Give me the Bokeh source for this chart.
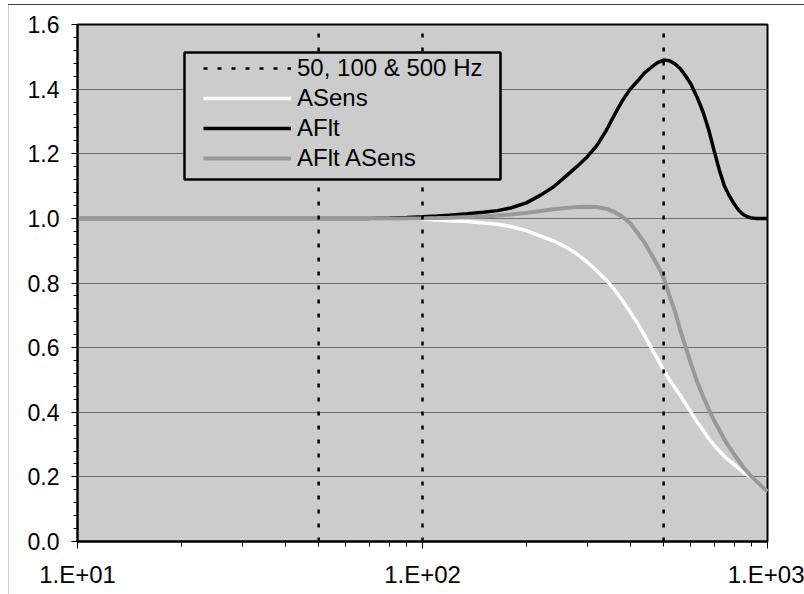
from bokeh.plotting import figure
from bokeh.models import (Range1d, FixedTicker, NumeralTickFormatter, Legend, LegendItem,
                          BoxAnnotation)
from bokeh.embed import file_html
from bokeh.resources import INLINE

# ---- data ----
freq = [10, 20, 30, 40, 50, 60, 70, 80, 90, 100, 110, 120, 135, 150, 165, 180, 200, 220,
        240, 260, 280, 300, 320, 340, 360, 380, 400, 420, 440, 460, 480, 500, 520, 540,
        560, 580, 600, 625, 650, 675, 700, 725, 750, 775, 800, 825, 850, 875, 900, 925,
        950, 975, 1000]
a_sens = [1.0, 1.0, 1.0, 1.0, 1.0, 1.0, 1.0, 1.0, 0.999, 0.997, 0.995, 0.993, 0.99, 0.986,
          0.982, 0.975, 0.962, 0.945, 0.93, 0.912, 0.89, 0.865, 0.838, 0.81, 0.78, 0.745,
          0.71, 0.675, 0.638, 0.60, 0.565, 0.53, 0.50, 0.475, 0.45, 0.425, 0.40, 0.37,
          0.345, 0.318, 0.298, 0.28, 0.263, 0.25, 0.238, 0.226, 0.215, 0.206, 0.197, 0.186,
          0.176, 0.165, 0.155]
a_flt = [1.0, 1.0, 1.0, 1.0, 1.0, 1.0, 1.0, 1.001, 1.003, 1.005, 1.007, 1.01, 1.014, 1.019,
         1.024, 1.032, 1.048, 1.072, 1.098, 1.13, 1.16, 1.19, 1.225, 1.27, 1.32, 1.365,
         1.40, 1.425, 1.45, 1.467, 1.482, 1.49, 1.488, 1.478, 1.462, 1.44, 1.415, 1.375,
         1.33, 1.275, 1.21, 1.15, 1.10, 1.07, 1.045, 1.025, 1.012, 1.005, 1.001, 1.0,
         1.0, 1.0, 1.0]
a_flt_asens = [1.0, 1.0, 1.0, 1.0, 1.0, 1.0, 1.0, 1.0, 1.0, 1.0, 1.001, 1.002, 1.004, 1.006,
               1.009, 1.012, 1.017, 1.023, 1.028, 1.032, 1.035, 1.036, 1.035, 1.03, 1.02,
               1.005, 0.985, 0.955, 0.925, 0.89, 0.855, 0.816, 0.76, 0.71, 0.65, 0.60, 0.55,
               0.495, 0.45, 0.41, 0.375, 0.345, 0.315, 0.292, 0.27, 0.25, 0.23, 0.215, 0.20,
               0.188, 0.177, 0.165, 0.155]
marker_freqs = [50, 100, 500]

series_names = ["50, 100 & 500 Hz", "ASens", "AFlt", "AFlt ASens"]
x_major = [10, 100, 1000]
x_minor = [20, 30, 40, 50, 60, 70, 80, 90, 200, 300, 400, 500, 600, 700, 800, 900]
x_tick_labels = ["1.E+01", "1.E+02", "1.E+03"]
y_major = [0.0, 0.2, 0.4, 0.6, 0.8, 1.0, 1.2, 1.4, 1.6]
y_minor = [round(i * 0.04, 2) for i in range(41)]
y_lo, y_hi = 0.0, 1.6

FONT = "Liberation Sans"

p = figure(width=804, height=594, x_axis_type="log",
           x_range=Range1d(10, 1000), y_range=Range1d(y_lo, y_hi),
           output_backend="svg", toolbar_location=None,
           background_fill_color="#CCCCCC", border_fill_color="white", border_fill_alpha=0,
           min_border_left=77, min_border_right=37, min_border_top=24, min_border_bottom=53)

# Excel-like outer chart border drawn behind the (transparent) canvas border
p.styles = {
    "background": ("linear-gradient(#404040, #404040) 8px 4px / 100% 1px no-repeat, "
                   "linear-gradient(#d0d0d0, #d0d0d0) 8px 4px / 1px 100% no-repeat, white"),
}

p.outline_line_color = "black"
p.outline_line_width = 2
p.xgrid.grid_line_color = None
p.ygrid.grid_line_color = "#6e6e6e"
p.ygrid.grid_line_width = 1

# x axis
xa = p.xaxis[0]
xa.ticker = FixedTicker(ticks=x_major, minor_ticks=x_minor)
xa.major_label_overrides = {v: t for v, t in zip(x_major, x_tick_labels)}
xa.axis_line_color = "black"
xa.axis_line_width = 2
xa.major_tick_in = 0
xa.major_tick_out = 7
xa.minor_tick_in = 0
xa.minor_tick_out = 5
xa.major_tick_line_color = "black"
xa.minor_tick_line_color = "black"
xa.major_label_text_font = FONT
xa.major_label_text_font_size = "24px"
xa.major_label_text_color = "black"
xa.major_label_standoff = 12

# y axis
ya = p.yaxis[0]
ya.ticker = FixedTicker(ticks=y_major, minor_ticks=y_minor)
ya.formatter = NumeralTickFormatter(format="0.0")
ya.axis_line_color = "black"
ya.axis_line_width = 2
ya.major_tick_in = 0
ya.major_tick_out = 6
ya.minor_tick_in = 0
ya.minor_tick_out = 4
ya.major_tick_line_color = "black"
ya.minor_tick_line_color = "black"
ya.major_label_text_font = FONT
ya.major_label_text_font_size = "23px"
ya.major_label_text_color = "black"
ya.major_label_standoff = 12

# curves
r_sens = p.line(freq, a_sens, line_color="white", line_width=3.5)
r_flt = p.line(freq, a_flt, line_color="black", line_width=3.5)
r_both = p.line(freq, a_flt_asens, line_color="#999999", line_width=4)

# vertical marker lines
r_mark = p.segment(x0=marker_freqs, x1=marker_freqs,
                   y0=[y_lo] * len(marker_freqs), y1=[y_hi] * len(marker_freqs),
                   line_color="black", line_width=2.5, line_dash="4 10")

# legend frame
p.add_layout(BoxAnnotation(left=184, right=500, top=52, bottom=179,
                           left_units="canvas", right_units="canvas",
                           top_units="canvas", bottom_units="canvas",
                           fill_color="#CCCCCC", fill_alpha=1.0,
                           line_color="black", line_alpha=1.0, line_width=2.5))

legend = Legend(items=[LegendItem(label=series_names[0], renderers=[r_mark]),
                       LegendItem(label=series_names[1], renderers=[r_sens]),
                       LegendItem(label=series_names[2], renderers=[r_flt]),
                       LegendItem(label=series_names[3], renderers=[r_both])],
                location=(126, 368), padding=0, spacing=0, margin=0,
                glyph_width=88, glyph_height=30, label_height=30,
                label_standoff=6, label_text_font=FONT, label_text_font_size="24px",
                label_text_color="black",
                border_line_color=None, background_fill_alpha=0)
p.add_layout(legend)

open("out.html", "w").write(file_html(p, INLINE))
